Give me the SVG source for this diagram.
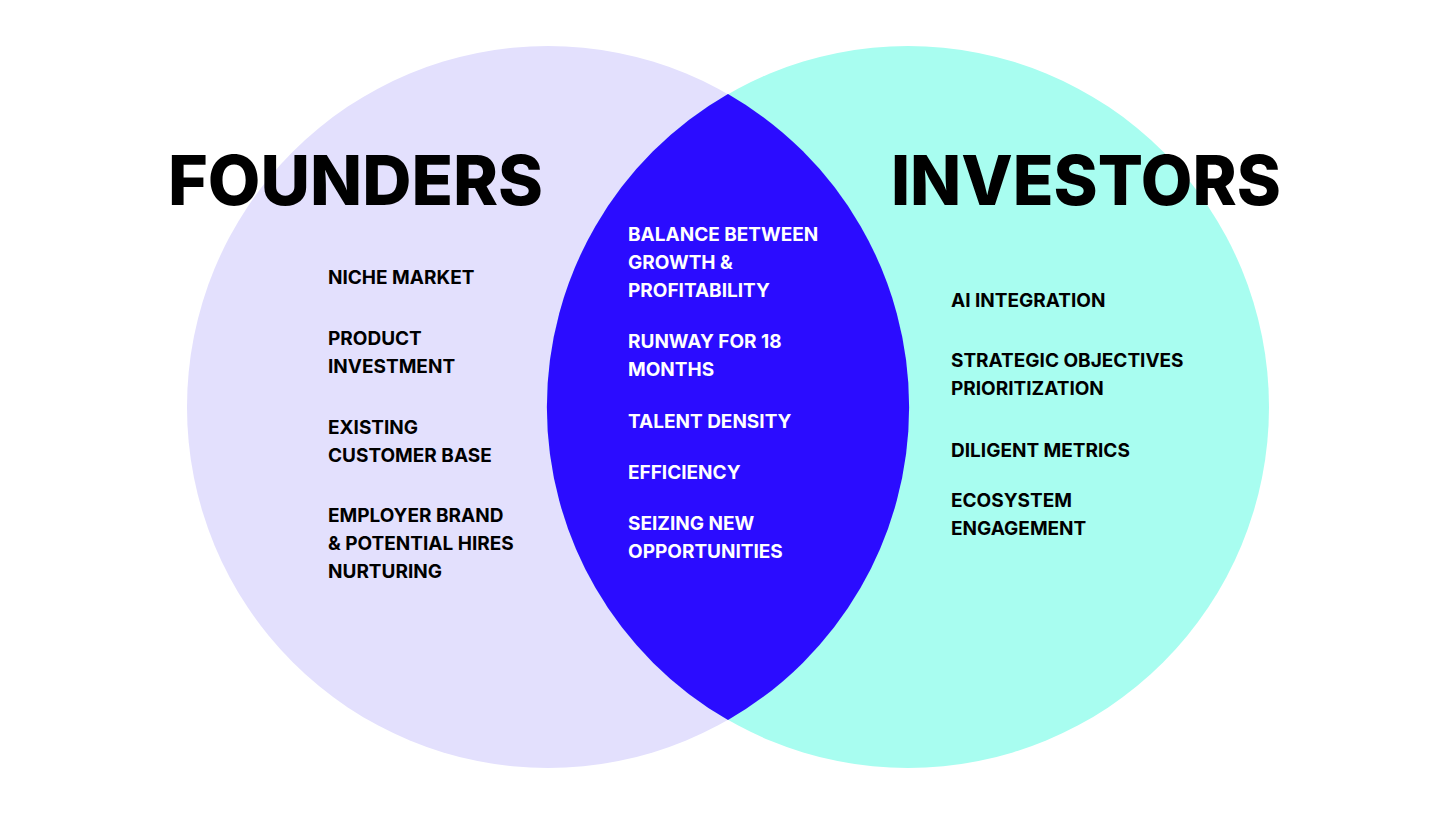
<svg xmlns="http://www.w3.org/2000/svg" width="1456" height="819" viewBox="0 0 1456 819">
<style>
.title{font-family:Inter,"Liberation Sans",sans-serif;font-weight:800;font-size:69px;fill:#000}
.item{font-family:Inter,"Liberation Sans",sans-serif;font-weight:700;font-size:19px;fill:#000}
.w{fill:#fff}
</style>
<rect width="1456" height="819" fill="#fff"/>
<g id="founders">
<circle cx="548" cy="407" r="361" fill="#E3E0FD"/>
</g>
<g id="investors">
<circle cx="908" cy="407" r="361" fill="#A8FDF0"/>
</g>
<g id="overlap">
<path d="M728 94 A361 361 0 0 1 728 720 A361 361 0 0 1 728 94 Z" fill="#2B0CFF"/>
</g>
<g id="titles">
<text class="title" x="168" y="205" textLength="375" lengthAdjust="spacingAndGlyphs">FOUNDERS</text>
<text class="title" x="891" y="205" textLength="390" lengthAdjust="spacingAndGlyphs">INVESTORS</text>
</g>
<g id="founders-items">
<text class="item" x="328" y="284">NICHE MARKET</text>
<text class="item" x="328" y="345">PRODUCT</text>
<text class="item" x="328" y="373">INVESTMENT</text>
<text class="item" x="328" y="434">EXISTING</text>
<text class="item" x="328" y="462">CUSTOMER BASE</text>
<text class="item" x="328" y="522">EMPLOYER BRAND</text>
<text class="item" x="328" y="550">&amp; POTENTIAL HIRES</text>
<text class="item" x="328" y="578">NURTURING</text>
</g>
<g id="shared-items">
<text class="item w" x="628" y="241">BALANCE BETWEEN</text>
<text class="item w" x="628" y="269">GROWTH &amp;</text>
<text class="item w" x="628" y="297">PROFITABILITY</text>
<text class="item w" x="628" y="348">RUNWAY FOR 18</text>
<text class="item w" x="628" y="376">MONTHS</text>
<text class="item w" x="628" y="428">TALENT DENSITY</text>
<text class="item w" x="628" y="479">EFFICIENCY</text>
<text class="item w" x="628" y="530">SEIZING NEW</text>
<text class="item w" x="628" y="558">OPPORTUNITIES</text>
</g>
<g id="investors-items">
<text class="item" x="951" y="307">AI INTEGRATION</text>
<text class="item" x="951" y="367">STRATEGIC OBJECTIVES</text>
<text class="item" x="951" y="395">PRIORITIZATION</text>
<text class="item" x="951" y="457">DILIGENT METRICS</text>
<text class="item" x="951" y="507">ECOSYSTEM</text>
<text class="item" x="951" y="535">ENGAGEMENT</text>
</g>
</svg>
